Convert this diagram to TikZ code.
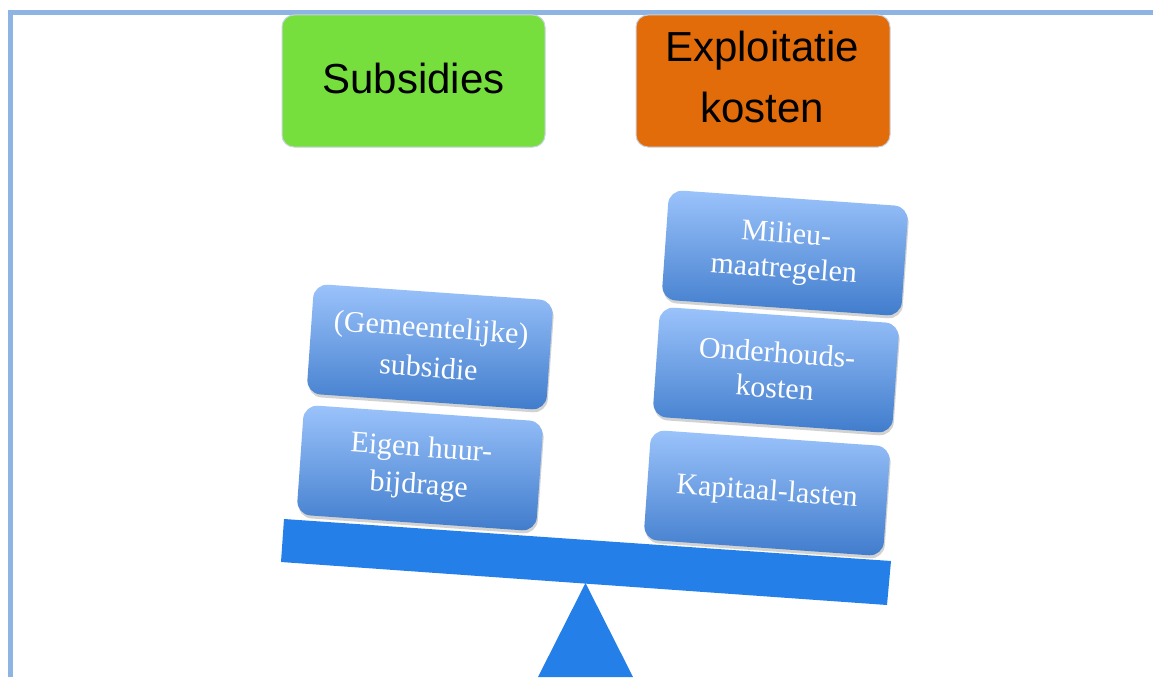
\documentclass[tikz,border=0pt]{standalone}
\usepackage{fontspec}
\setmainfont{Liberation Serif}
\newfontfamily\headfont{Liberation Sans}
\usetikzlibrary{shadows}
\definecolor{frameblue}{RGB}{141,180,226}
\definecolor{subgreen}{RGB}{118,223,62}
\definecolor{costorange}{RGB}{226,108,10}
\definecolor{boxedge}{RGB}{200,210,222}
\definecolor{itemtop}{RGB}{155,195,251}
\definecolor{itembottom}{RGB}{64,124,204}
\definecolor{beamblue}{RGB}{36,128,232}
\tikzset{
  headbox/.style={draw=boxedge, line width=1, rounded corners=12,
    minimum height=132},
  headtext/.style={align=center, text=black, inner sep=0,
    font=\headfont\fontsize{42}{61}\selectfont},
  itembox/.style={rounded corners=14, minimum width=240, minimum height=110,
    rotate=-4, top color=itemtop, bottom color=itembottom,
    text=white, align=center, font=\fontsize{30}{37}\selectfont,
    drop shadow={opacity=0.35, shadow xshift=1, shadow yshift=-3}},
}
\begin{document}
\begin{tikzpicture}[x=1pt,y=1pt]
\useasboundingbox (0,0) rectangle (1153,-677);
\fill[white] (0,0) rectangle (1153,-677);
% frame along left and top
\draw[frameblue, line width=5] (10.5,-677) -- (10.5,-12.5) -- (1153,-12.5);

% headings
\node[headbox, fill=subgreen, minimum width=263] (subs) at (413.5,-81) {};
\node[headtext] (substext) at ([yshift=3]subs.center) {Subsidies};
\node[headbox, fill=costorange, minimum width=254] (cost) at (763,-81) {};
\node[headtext] (costtext) at ([xshift=-1,yshift=4]cost.center) {Exploitatie\\kosten};

% balance beam and fulcrum
\fill[beamblue] (284,-519) -- (891,-561) -- (887,-605) -- (281,-562) -- cycle;
\fill[beamblue] (585.5,-583) -- (633,-677) -- (538,-677) -- cycle;

% left pan
\node[itembox] (eigen) at (420,-468) {Eigen huur-\\bijdrage};
\node[itembox, font=\fontsize{30}{40}\selectfont] (gem) at (430,-347) {(Gemeentelijke)\\subsidie};

% right pan
\node[itembox] (kap) at (767,-493) {Kapitaal-lasten};
\node[itembox, font=\fontsize{30}{35}\selectfont] (ond) at (776,-370) {Onderhouds-\\kosten};
\node[itembox, font=\fontsize{30}{35}\selectfont] (mil) at (785,-253) {Milieu-\\maatregelen};
\end{tikzpicture}
\end{document}
